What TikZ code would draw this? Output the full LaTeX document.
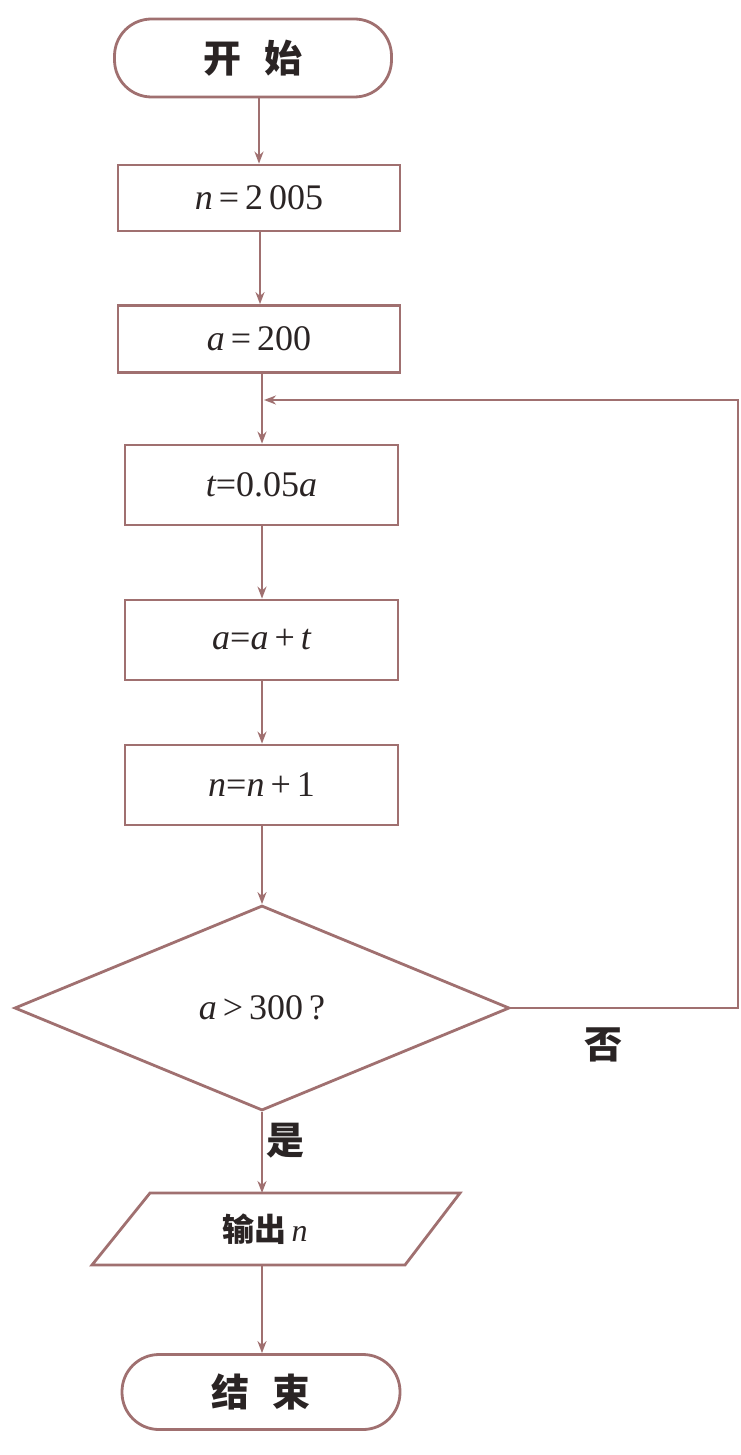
\documentclass[tikz,border=0pt]{standalone}
\usepackage{fontspec}
\setmainfont{Liberation Serif}
\newfontfamily\cjk{Noto Sans CJK SC}
\usetikzlibrary{shapes.geometric,arrows.meta,calc}
\definecolor{ln}{HTML}{A07070}
\definecolor{tx}{HTML}{2A2424}
\tikzset{
  every node/.style={text=tx, font=\fontsize{18}{20}\selectfont},
  proc/.style={draw=ln, line width=1.4pt, rectangle, inner sep=0pt},
  term/.style={draw=ln, line width=1.4pt, rectangle, rounded corners=18.5pt, inner sep=0pt},
  cond/.style={draw=ln, line width=1.4pt, diamond, inner sep=0pt},
  conn/.style={draw=ln, line width=1.3pt, -{Stealth[length=6pt,width=4.5pt]}},
  plain/.style={draw=ln, line width=1.4pt},
  lab/.style={font=\cjk\bfseries\fontsize{19}{20}\selectfont}
}
\begin{document}
\begin{tikzpicture}[x=0.5pt,y=-0.5pt]
\path[use as bounding box, fill=white] (0,0) rectangle (740,1455);

\node[term, minimum width=138.5pt, minimum height=39pt, font=\cjk\bfseries\fontsize{19}{20}\selectfont] (start) at (253,58) {开\hspace{0.6em}始};
\node[proc, minimum width=141pt, minimum height=33pt] (b1) at (259,198) {{\itshape n}\,=\,2\,005};
\node[proc, minimum width=141pt, minimum height=33.5pt] (b2) at (259,339) {{\itshape a}\,=\,200};
\node[proc, minimum width=136.5pt, minimum height=40pt] (b3) at (261.5,485) {{\itshape t}=0.05{\itshape a}};
\node[proc, minimum width=136.5pt, minimum height=40pt] (b4) at (261.5,640) {{\itshape a}={\itshape a}\,+\,{\itshape t}};
\node[proc, minimum width=136.5pt, minimum height=40pt] (b5) at (261.5,785) {{\itshape n}={\itshape n}\,+\,1};
\node[cond, minimum width=247.5pt, minimum height=102.5pt] (dia) at (262,1008) {{\itshape a}\,>\,300\,?};
\node[inner sep=0pt, minimum height=36pt, font=\cjk\bfseries\fontsize{16}{18}\selectfont] (out) at (265,1229) {输出\,{\fontspec{Liberation Serif}\mdseries\itshape n}};
\node[term, minimum width=139pt, minimum height=37.5pt, font=\cjk\bfseries\fontsize{19}{20}\selectfont] (stop) at (261,1392) {结\hspace{0.6em}束};

% parallelogram outline around the output node
\path[plain] (150,1193) -- (460,1193) -- (405,1265) -- (92,1265) -- cycle;

\coordinate (join) at (262,400);
\coordinate (ri) at (738,1008);
\coordinate (rt) at (738,400);
\coordinate (outtop) at (262,1193);
\coordinate (outbot) at (262,1265);

\draw[conn] (start.south -| 259,0) -- (b1.north -| 259,0);
\draw[conn] (b1.south -| 260,0) -- (b2.north -| 260,0);
\draw[conn] (b2.south -| 262,0) -- (b3.north -| 262,0);
\draw[conn] (b3.south -| 262,0) -- (b4.north -| 262,0);
\draw[conn] (b4.south -| 262,0) -- (b5.north -| 262,0);
\draw[conn] (b5.south -| 262,0) -- (dia.north);
\draw[conn] (dia.south) -- (outtop);
\draw[conn] (outbot) -- (stop.north -| 262,0);
\draw[conn] (dia.east) -- (ri) -- (rt) -- ([xshift=1pt]join);

\node[lab] (no) at (603,1045) {否};
\node[lab] (yes) at (285,1141) {是};
\end{tikzpicture}
\end{document}
